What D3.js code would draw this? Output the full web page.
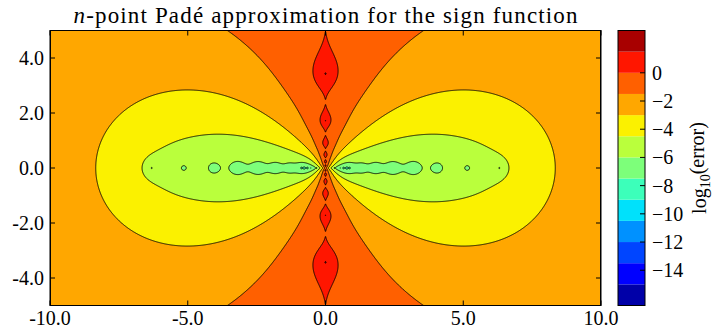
<!DOCTYPE html>
<html>
<head>
<meta charset="utf-8">
<script src="https://cdn.jsdelivr.net/npm/d3@7"></script>
<style>
  html, body { margin: 0; padding: 0; background: #fff; }
  svg text { font-family: "Liberation Serif", "DejaVu Serif", serif; fill: #000; }
</style>
</head>
<body>
<svg id="chart" width="716" height="329"></svg>
<script>
// Interpolation points on the positive real axis (mirrored to the negative side)
const innerNodes = [0.01, 0.04, 0.12, 0.22, 0.32, 0.42, 0.53, 0.65, 0.77];
const outerNodes = [0.88, 1.29, 1.81, 2.44, 3.2, 4.07, 5.15, 6.31];
// Filled-contour levels of log10(error)
const levels = [-16.5, -15, -13.5, -12, -10.5, -9, -7.5, -6, -4.5, -3, -1.5, 0, 1.5, 3];
// Axis and colorbar ticks
const xTicks = [-10, -5, 0, 5, 10];
const yTicks = [-4, -2, 0, 2, 4];
const cbTicks = [0, -2, -4, -6, -8, -10, -12, -14];
const xDomain = [-10, 10];
const yDomain = [-5, 5];

const nodes = innerNodes.concat(outerNodes);
const svg = d3.select("#chart");
const L = 50, R = 601, T = 30.5, B = 305.5;
const x = d3.scaleLinear().domain(xDomain).range([L, R]);
const y = d3.scaleLinear().domain(yDomain).range([B, T]);

// matplotlib "jet" colormap (256-entry lookup)
const jetSeg = {
  r: [[0, 0], [0.35, 0], [0.66, 1], [0.89, 1], [1, 0.5]],
  g: [[0, 0], [0.125, 0], [0.375, 1], [0.64, 1], [0.91, 0], [1, 0]],
  b: [[0, 0.5], [0.11, 1], [0.34, 1], [0.65, 0], [1, 0]]
};
function seg(pts, u) {
  for (let i = 1; i < pts.length; i++) {
    if (u <= pts[i][0]) {
      const [x0, y0] = pts[i - 1], [x1, y1] = pts[i];
      return y0 + (y1 - y0) * (u - x0) / (x1 - x0);
    }
  }
  return pts[pts.length - 1][1];
}
function jet(t) {
  const idx = Math.max(0, Math.min(255, Math.floor(t * 256)));
  const u = idx / 255;
  return d3.rgb(seg(jetSeg.r, u) * 255, seg(jetSeg.g, u) * 255, seg(jetSeg.b, u) * 255).formatHex();
}
const nBands = levels.length - 1;
const bandColor = d3.range(nBands).map(k => jet((k + 0.5) / nBands));

// Error of the rational interpolant r = (1 - phi) / (1 + phi),
// phi(z) = prod (x_k - z) / (x_k + z), against sign(Re z)
function logError(zx, zy) {
  const ax = Math.abs(zx);
  let pr = 1, pi = 0;
  for (const a of nodes) {
    const nr = a - ax, ni = -zy;
    const dr = a + ax, di = zy;
    const dd = dr * dr + di * di;
    const qr = (nr * dr + ni * di) / dd;
    const qi = (ni * dr - nr * di) / dd;
    const tr = pr * qr - pi * qi;
    pi = pr * qi + pi * qr;
    pr = tr;
  }
  const mag = Math.hypot(pr, pi);
  const den = Math.hypot(1 + pr, pi);
  const e = 2 * mag / den;
  if (!(e > 0)) return -40;
  return Math.max(-40, Math.min(40, Math.log10(e)));
}

// Sample the field on a half-pixel grid
const step = 0.5;
const nx = Math.round((R - L) / step), ny = Math.round((B - T) / step);
const values = new Float64Array(nx * ny);
for (let j = 0; j < ny; j++) {
  const zy = y.invert(T + (j + 0.5) * step);
  for (let i = 0; i < nx; i++) {
    const zx = x.invert(L + (i + 0.5) * step);
    values[i + j * nx] = logError(zx, zy);
  }
}

const contours = d3.contours().size([nx, ny]).thresholds(levels)(values);
const path = d3.geoPath(d3.geoIdentity().scale(step).translate([L, T]));

svg.append("defs").append("clipPath").attr("id", "plotClip")
  .append("rect").attr("x", L).attr("y", T).attr("width", R - L).attr("height", B - T);

const gPlot = svg.append("g").attr("clip-path", "url(#plotClip)");
gPlot.append("g").selectAll("path")
  .data(contours)
  .join("path")
  .attr("d", path)
  .attr("fill", (d, i) => i < nBands ? bandColor[i] : "#ffffff")
  .attr("stroke", "none");
gPlot.append("g").selectAll("path")
  .data(contours)
  .join("path")
  .attr("d", path)
  .attr("fill", "none")
  .attr("stroke", "#000")
  .attr("stroke-width", 0.9)
  .attr("stroke-linejoin", "round");

// Frame and inward ticks on all four sides
svg.append("rect").attr("x", L).attr("y", T).attr("width", R - L).attr("height", B - T)
  .attr("fill", "none").attr("stroke", "#000").attr("stroke-width", 1);
const tk = 5;
const gT = svg.append("g").attr("stroke", "#000").attr("stroke-width", 1);
xTicks.forEach(v => {
  gT.append("line").attr("x1", x(v)).attr("x2", x(v)).attr("y1", B).attr("y2", B - tk);
  gT.append("line").attr("x1", x(v)).attr("x2", x(v)).attr("y1", T).attr("y2", T + tk);
});
yTicks.forEach(v => {
  gT.append("line").attr("x1", L).attr("x2", L + tk).attr("y1", y(v)).attr("y2", y(v));
  gT.append("line").attr("x1", R).attr("x2", R - tk).attr("y1", y(v)).attr("y2", y(v));
});
const fmt = d3.format(".1f");
svg.append("g").selectAll("text").data(xTicks).join("text")
  .attr("x", d => x(d)).attr("y", 325)
  .attr("text-anchor", "middle").attr("font-size", 20)
  .text(d => fmt(d).replace("\u2212", "-"));
svg.append("g").selectAll("text").data(yTicks).join("text")
  .attr("x", L - 6).attr("y", d => y(d)).attr("dy", "0.35em")
  .attr("text-anchor", "end").attr("font-size", 20)
  .text(d => fmt(d).replace("\u2212", "-"));

// Title
const title = svg.append("text").attr("x", (L + R) / 2).attr("y", 23)
  .attr("text-anchor", "middle").attr("font-size", 23)
  .attr("textLength", 504).attr("lengthAdjust", "spacing");
title.append("tspan").attr("font-style", "italic").text("n");
title.append("tspan").text("-point Padé approximation for the sign function");

// Colorbar
const cbL = 618, cbR = 645;
const cy = d3.scaleLinear().domain([levels[0], levels[levels.length - 1]]).range([B, T]);
const gCb = svg.append("g");
gCb.selectAll("rect").data(d3.range(nBands)).join("rect")
  .attr("x", cbL).attr("width", cbR - cbL)
  .attr("y", k => cy(levels[k + 1])).attr("height", k => cy(levels[k]) - cy(levels[k + 1]))
  .attr("fill", k => bandColor[k]);
gCb.append("rect").attr("x", cbL).attr("y", T).attr("width", cbR - cbL).attr("height", B - T)
  .attr("fill", "none").attr("stroke", "#000").attr("stroke-width", 1);
cbTicks.forEach(v => {
  gCb.append("line").attr("x1", cbR).attr("x2", cbR - 5).attr("y1", cy(v)).attr("y2", cy(v))
    .attr("stroke", "#000").attr("stroke-width", 1);
});
gCb.selectAll("text.cb").data(cbTicks).join("text").attr("class", "cb")
  .attr("x", cbR + 7).attr("y", d => cy(d)).attr("dy", "0.35em")
  .attr("font-size", 20)
  .text(d => d < 0 ? "\u2212" + Math.abs(d) : String(d));
const cbLabel = svg.append("text")
  .attr("transform", "translate(706,168) rotate(-90)")
  .attr("text-anchor", "middle").attr("font-size", 20);
cbLabel.append("tspan").text("log");
cbLabel.append("tspan").attr("font-size", 14).attr("dy", "0.3em").text("10");
cbLabel.append("tspan").attr("dy", "-0.3em").text("(error)");
</script>
</body>
</html>
